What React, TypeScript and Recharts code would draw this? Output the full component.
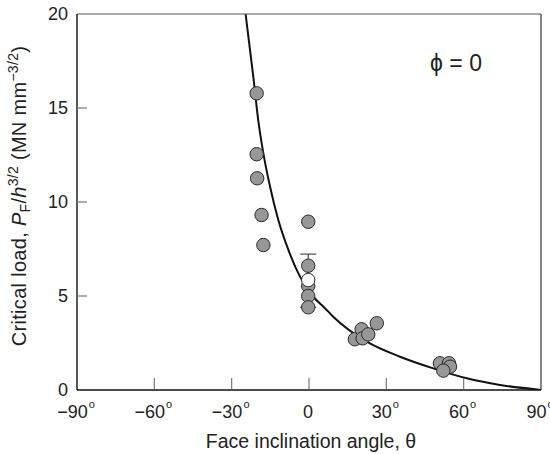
import React from "react";
import {
  ComposedChart,
  Line,
  Scatter,
  ErrorBar,
  XAxis,
  YAxis,
} from "recharts";

// measured points (gray), face angle in degrees vs critical load
const grayTheta = [-20.3, -20.3, -20.1, -18.4, -17.7, -0.3, -0.3, -0.3, -0.3, -0.3, 17.8, 20.4, 20.8, 23.0, 26.3, 50.8, 54.3, 54.7, 52.1];
const grayLoad = [15.78, 12.54, 11.26, 9.31, 7.71, 8.95, 6.61, 5.53, 5.0, 4.4, 2.7, 3.23, 2.75, 2.96, 3.55, 1.42, 1.42, 1.24, 1.03];

// open point with error bar
const openTheta = [-0.3];
const openLoad = [5.85];
const openErr = [[1.45, 1.38]];

// fitted curve
const curveTheta = [-24.6, -21.6, -19.7, -17.7, -15.1, -11.9, -8.0, -3.5, 1.7, 6.2, 9.4, 22.4, 35.3, 48.2, 61.2, 74.1, 90];
const curveLoad = [20, 16.66, 14.36, 12.59, 10.81, 9.04, 7.45, 6.03, 4.96, 4.35, 3.9, 2.57, 1.77, 1.15, 0.62, 0.27, 0];

const xTicks = [-90, -60, -30, 0, 30, 60, 90];
const xTickLabels = ["\u221290", "\u221260", "\u221230", "0", "30", "60", "90"];
const yTicks = [0, 5, 10, 15, 20];

const FONT = "'Liberation Sans', Arial, Helvetica, sans-serif";
const TICK_COLOR = "#777";

const grayData = grayTheta.map((x, i) => ({ x, y: grayLoad[i] }));
const openData = openTheta.map((x, i) => ({ x, y: openLoad[i], err: openErr[i] }));
const curveData = curveTheta.map((x, i) => ({ x, y: curveLoad[i] }));

function BottomTick(props: any) {
  const { x, y, payload } = props;
  const i = xTicks.indexOf(payload.value);
  const edge = payload.value === -90 || payload.value === 90;
  return (
    <g>
      {!edge && <line x1={x} x2={x} y1={y - 1} y2={y - 12} stroke={TICK_COLOR} strokeWidth={1.2} />}
      <text x={x - 1} y={y + 28} textAnchor="middle" fontSize={18} fill="#222" fontFamily={FONT}>
        {xTickLabels[i]}
        {payload.value !== 0 && (
          <tspan fontSize={11} dx={1} dy={-10}>o</tspan>
        )}
      </text>
    </g>
  );
}

function TopTick(props: any) {
  const { x, y, payload } = props;
  if (payload.value === -90 || payload.value === 90) return null;
  return <line x1={x} x2={x} y1={y} y2={y + 10} stroke={TICK_COLOR} strokeWidth={1.2} />;
}

function LeftTick(props: any) {
  const { x, y, payload } = props;
  const edge = payload.value === 0 || payload.value === 20;
  return (
    <g>
      {!edge && <line x1={x} x2={x + 10} y1={y} y2={y} stroke={TICK_COLOR} strokeWidth={1.2} />}
      <text x={x - 9} y={y + 6} textAnchor="end" fontSize={18} fill="#222" fontFamily={FONT}>
        {payload.value}
      </text>
    </g>
  );
}

function RightTick(props: any) {
  const { x, y, payload } = props;
  if (payload.value === 0 || payload.value === 20) return null;
  return <line x1={x} x2={x - 10} y1={y} y2={y} stroke={TICK_COLOR} strokeWidth={1.2} />;
}

function YTitle() {
  return (
    <text
      x={26}
      y={196}
      transform="rotate(-90, 26, 196)"
      textAnchor="middle"
      fontSize={20}
      letterSpacing={0.3}
      fill="#222"
      fontFamily={FONT}
    >
      <tspan>Critical load, </tspan>
      <tspan fontStyle="italic">P</tspan>
      <tspan fontSize={14} dy={4}>F</tspan>
      <tspan dy={-4}>/</tspan>
      <tspan fontStyle="italic">h</tspan>
      <tspan fontSize={14} dy={-8}>3/2</tspan>
      <tspan dy={8}> (MN mm</tspan>
      <tspan fontSize={14} dy={-8}>{"\u22123/2"}</tspan>
      <tspan dy={8}>)</tspan>
    </text>
  );
}

function XTitle() {
  return (
    <text x={311} y={448} textAnchor="middle" fontSize={19.5} fill="#222" fontFamily={FONT}>
      Face inclination angle, θ
    </text>
  );
}

function PhiNote() {
  return (
    <text x={456} y={71} textAnchor="middle" fontSize={23} fill="#222" fontFamily={FONT}>
      ϕ = 0
    </text>
  );
}

const grayDot = (p: any) => (
  <circle cx={p.cx} cy={p.cy} r={6.7} fill="#979797" stroke="#2a2a2a" strokeWidth={1} />
);
const openDot = (p: any) => (
  <circle cx={p.cx} cy={p.cy} r={6.7} fill="#fff" stroke="#2a2a2a" strokeWidth={1} />
);

export default function App() {
  return (
    <div style={{ position: "absolute", left: 0, top: 0, background: "#fff" }}>
      <ComposedChart
        width={550}
        height={454}
        margin={{ top: 13, right: 8, bottom: 24, left: 17 }}
      >
        <XAxis
          dataKey="x"
          type="number"
          domain={[-90, 90]}
          ticks={xTicks}
          allowDataOverflow
          height={40}
          tickSize={0}
          tickMargin={0}
          tickLine={false}
          tick={<BottomTick />}
          axisLine={{ stroke: "#111", strokeWidth: 1.6 }}
          label={<XTitle />}
        />
        <XAxis
          xAxisId="top"
          orientation="top"
          type="number"
          domain={[-90, 90]}
          ticks={xTicks}
          height={1}
          tickSize={0}
          tickMargin={0}
          tickLine={false}
          tick={<TopTick />}
          axisLine={{ stroke: "#555", strokeWidth: 1.2 }}
          label={<PhiNote />}
        />
        <YAxis
          type="number"
          domain={[0, 20]}
          ticks={yTicks}
          allowDataOverflow
          width={60}
          tickSize={0}
          tickMargin={0}
          tickLine={false}
          tick={<LeftTick />}
          axisLine={{ stroke: "#111", strokeWidth: 1.4 }}
          label={<YTitle />}
        />
        <YAxis
          yAxisId="right"
          orientation="right"
          type="number"
          domain={[0, 20]}
          ticks={yTicks}
          width={1}
          tickSize={0}
          tickMargin={0}
          tickLine={false}
          tick={<RightTick />}
          axisLine={{ stroke: "#333", strokeWidth: 1.2 }}
        />
        <Line
          data={curveData}
          dataKey="y"
          type="monotone"
          stroke="#111"
          strokeWidth={2}
          dot={false}
          activeDot={false}
          isAnimationActive={false}
        />
        <Scatter data={grayData} dataKey="y" shape={grayDot} isAnimationActive={false} />
        <Scatter data={openData} dataKey="y" shape={openDot} isAnimationActive={false}>
          <ErrorBar dataKey="err" direction="y" width={8} stroke="#2a2a2a" strokeWidth={1} />
        </Scatter>
      </ComposedChart>
    </div>
  );
}
